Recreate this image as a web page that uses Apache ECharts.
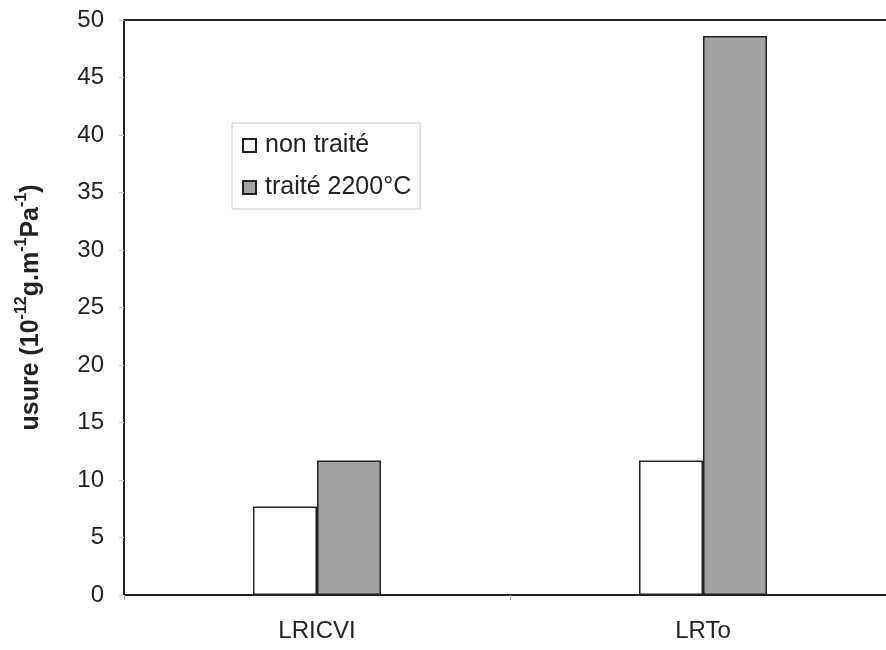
<!DOCTYPE html>
<html>
<head>
<meta charset="utf-8">
<script src="https://cdn.jsdelivr.net/npm/echarts@6/dist/echarts.min.js"></script>
<style>
html, body { margin: 0; padding: 0; background: #fff; }
#chart { width: 886px; height: 650px; }
</style>
</head>
<body>
<div id="chart"></div>
<script>
// data
const categories = ['LRICVI', 'LRTo'];
const seriesNames = ['non traité', 'traité 2200°C'];
const nonTraite = [7.7, 11.7];
const traite2200 = [11.7, 48.6];
const yTicks = [0, 5, 10, 15, 20, 25, 30, 35, 40, 45, 50];

const chart = echarts.init(document.getElementById('chart'));
const font = 'Liberation Sans, Arial, sans-serif';

let option = {
	backgroundColor: '#fff',
	animation: false,
	textStyle: { fontFamily: font },
	grid: {
		left: 124,
		top: 20,
		width: 772,
		height: 575,
		outerBoundsMode: 'none',
		containLabel: false,
		show: true,
		borderColor: '#222',
		borderWidth: 2,
		backgroundColor: 'transparent'
	},
	legend: {
		orient: 'vertical',
		left: 232,
		top: 123,
		data: seriesNames,
		icon: 'rect',
		itemWidth: 13,
		itemHeight: 13,
		itemGap: 17,
		padding: [10, 9, 9, 10],
		borderColor: '#ccc',
		borderWidth: 1,
		textStyle: {
			color: '#222',
			fontSize: 25,
			lineHeight: 24,
			padding: [0, 0, 0, 4],
			fontFamily: font
		}
	},
	xAxis: {
		type: 'category',
		data: categories,
		boundaryGap: true,
		axisLine: { lineStyle: { color: '#222', width: 2 } },
		axisTick: { show: true, length: 5, lineStyle: { color: '#aaa' } },
		axisLabel: { color: '#222', fontSize: 24, margin: 24, fontFamily: font },
		splitLine: { show: false }
	},
	yAxis: {
		type: 'value',
		min: yTicks[0],
		max: yTicks[yTicks.length - 1],
		interval: 5,
		name: '{b|usure (10}{s|-12}{b|g.m}{s|-1}{b|Pa}{s|-1}{b|)}',
		nameLocation: 'middle',
		nameRotate: 90,
		nameGap: 80,
		nameTextStyle: {
			rich: {
				b: { fontSize: 25, fontWeight: 'bold', color: '#222', fontFamily: font, lineHeight: 30, verticalAlign: 'bottom' },
				s: { fontSize: 16, fontWeight: 'bold', color: '#222', fontFamily: font, lineHeight: 16, verticalAlign: 'top' }
			}
		},
		axisLine: { show: true, lineStyle: { color: '#222', width: 2 } },
		axisTick: { show: true, length: 5, lineStyle: { color: '#ccc' } },
		axisLabel: { color: '#222', fontSize: 24, margin: 20, fontFamily: font },
		splitLine: { show: false }
	},
	series: [
		{
			name: seriesNames[0],
			type: 'bar',
			data: nonTraite,
			barWidth: 64,
			barGap: '0%',
			itemStyle: { color: '#fff', borderColor: '#222', borderWidth: 1.5 }
		},
		{
			name: seriesNames[1],
			type: 'bar',
			data: traite2200,
			barWidth: 64,
			barGap: '0%',
			itemStyle: { color: '#a2a2a2', borderColor: '#222', borderWidth: 1.5 }
		}
	]
};
chart.setOption(option);
</script>
</body>
</html>
